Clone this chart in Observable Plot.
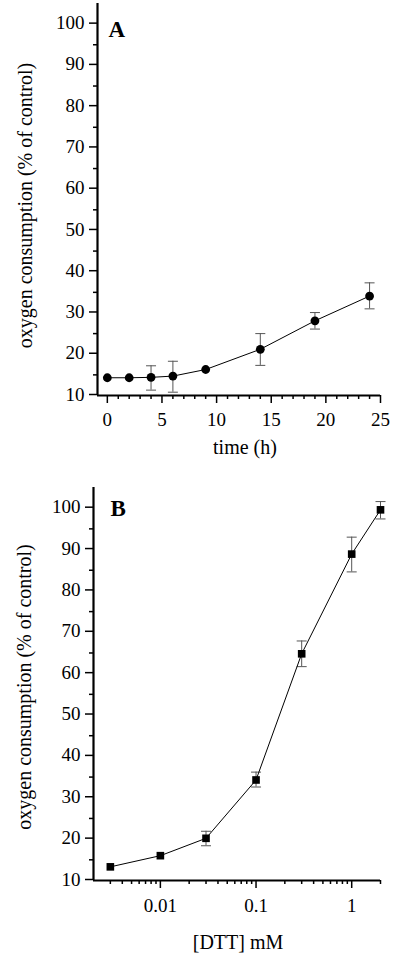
<!DOCTYPE html>
<html><head><meta charset="utf-8">
<script src="https://cdn.jsdelivr.net/npm/d3@7"></script>
<script src="https://cdn.jsdelivr.net/npm/@observablehq/plot@0.6"></script>
<style>body{margin:0;background:#fff} svg{display:block}</style>
</head><body><div id="chart"></div>
<script>
// Panel A: time course
const timeH = [0, 2, 4, 6, 9, 14, 19, 24];
const oxyA = [14.3, 14.3, 14.4, 14.7, 16.3, 21.2, 28.1, 34.1];
const errLowA = [null, null, 11.3, 10.8, null, 17.3, 26.1, 31.0];
const errHighA = [null, null, 17.2, 18.3, null, 25.0, 30.1, 37.3];

// Panel B: DTT dose response
const dttMM = [0.003, 0.01, 0.03, 0.1, 0.3, 1, 2];
const oxyB = [13.3, 16.0, 20.2, 34.3, 64.8, 88.9, 99.6];
const errLowB = [null, null, 18.4, 32.6, 61.7, 84.6, 97.4];
const errHighB = [null, null, 21.9, 36.2, 67.9, 93.0, 101.6];

// Ticks
const yMajorTicks = [10, 20, 30, 40, 50, 60, 70, 80, 90, 100];
const yMinorTicks = [15, 25, 35, 45, 55, 65, 75, 85, 95];
const xMajorTicksA = [0, 5, 10, 15, 20, 25];
const xMinorTicksA = [1, 2, 3, 4, 6, 7, 8, 9, 11, 12, 13, 14, 16, 17, 18, 19, 21, 22, 23, 24];
const xMajorTicksB = [0.01, 0.1, 1];
const xMinorTicksB = [0.003, 0.004, 0.005, 0.006, 0.007, 0.008, 0.009,
  0.02, 0.03, 0.04, 0.05, 0.06, 0.07, 0.08, 0.09,
  0.2, 0.3, 0.4, 0.5, 0.6, 0.7, 0.8, 0.9, 2];

const yLabel = "oxygen consumption (% of control)";
const xLabelA = "time (h)";
const xLabelB = "[DTT] mM";

const font = "'Liberation Serif', 'Times New Roman', Times, serif";
const capSymbol = {
  draw(ctx, size) {
    const w = Math.sqrt(size / Math.PI);
    ctx.moveTo(-w, 0); ctx.lineTo(w, 0);
  }
};

const dataA = timeH.map((t, i) => ({x: t, y: oxyA[i], lo: errLowA[i], hi: errHighA[i]}));
const dataB = dttMM.map((t, i) => ({x: t, y: oxyB[i], lo: errLowB[i], hi: errHighB[i]}));

function panel({data, xScale, height, marginTop, marginBottom, marginLeft, xMajor, xMinor, xTickPad,
                letter, letterDx, letterDy, xLabel, xLabelDx, xLabelDy, yLabelDx, yLabelDy, symbol, r}) {
  const err = data.filter(d => d.lo != null);
  const errPts = err.flatMap(d => [{x: d.x, y: d.lo}, {x: d.x, y: d.hi}]);
  const blank = () => "";
  return Plot.plot({
    width: 400,
    height,
    marginTop, marginBottom, marginLeft, marginRight: 20,
    x: xScale,
    y: {domain: [10, 105]},
    style: {fontFamily: font, fontSize: "19px", color: "black", background: "white", overflow: "visible"},
    marks: [
      Plot.ruleX(err, {x: "x", y1: "lo", y2: "hi", stroke: "#555", strokeWidth: 1}),
      Plot.dot(errPts, {x: "x", y: "y", symbol: capSymbol, r: 5, stroke: "#555", strokeWidth: 1, fill: "none"}),
      Plot.line(data, {x: "x", y: "y", stroke: "black", strokeWidth: 1}),
      Plot.dot(data, {x: "x", y: "y", symbol, r, fill: "black", stroke: "none"}),
      Plot.axisY(yMajorTicks, {tickSize: 8, tickPadding: 5, strokeWidth: 1.5, label: null, dy: -1, fontSize: 19, fontFamily: font}),
      Plot.axisY(yMinorTicks, {tickSize: 4, strokeWidth: 1.5, label: null, tickFormat: blank}),
      Plot.axisX(xMajor, {tickSize: 8, tickPadding: xTickPad, strokeWidth: 1.5, label: null, tickFormat: d => String(d), fontSize: 19, fontFamily: font}),
      Plot.axisX(xMinor, {tickSize: 4, strokeWidth: 1.5, label: null, tickFormat: blank}),
      Plot.ruleX([xScale.domain[0]], {strokeWidth: 2.2}),
      Plot.ruleY([10], {strokeWidth: 2.2}),
      Plot.text([letter], {frameAnchor: "top-left", dx: letterDx, dy: letterDy, lineAnchor: "bottom", textAnchor: "start", fontSize: 23, fontWeight: "bold", fontFamily: font}),
      Plot.text([xLabel], {frameAnchor: "bottom", dx: xLabelDx, dy: xLabelDy, lineAnchor: "bottom", textAnchor: "middle", fontSize: 20, fontFamily: font}),
      Plot.text([yLabel], {frameAnchor: "left", rotate: -90, dx: yLabelDx, dy: yLabelDy, lineAnchor: "middle", textAnchor: "middle", fontSize: 20, fontFamily: font})
    ]
  });
}

const root = document.getElementById("chart");
root.append(panel({
  data: dataA,
  xScale: {type: "linear", domain: [-0.9, 25]},
  height: 480, marginTop: 3, marginBottom: 85, marginLeft: 97,
  xMajor: xMajorTicksA, xMinor: xMinorTicksA, xTickPad: 9,
  letter: "A", letterDx: 11, letterDy: 33,
  xLabel: xLabelA, xLabelDx: 6, xLabelDy: 58,
  yLabelDx: -72, yLabelDy: 6,
  symbol: "circle", r: 4.4
}));
root.append(panel({
  data: dataB,
  xScale: {type: "log", domain: [0.002, 2]},
  height: 478, marginTop: 7, marginBottom: 78, marginLeft: 93,
  xMajor: xMajorTicksB, xMinor: xMinorTicksB, xTickPad: 10,
  letter: "B", letterDx: 17, letterDy: 28,
  xLabel: xLabelB, xLabelDx: 1, xLabelDy: 68,
  yLabelDx: -69, yLabelDy: 3,
  symbol: "square", r: 4.3
}));
</script>
</body></html>
